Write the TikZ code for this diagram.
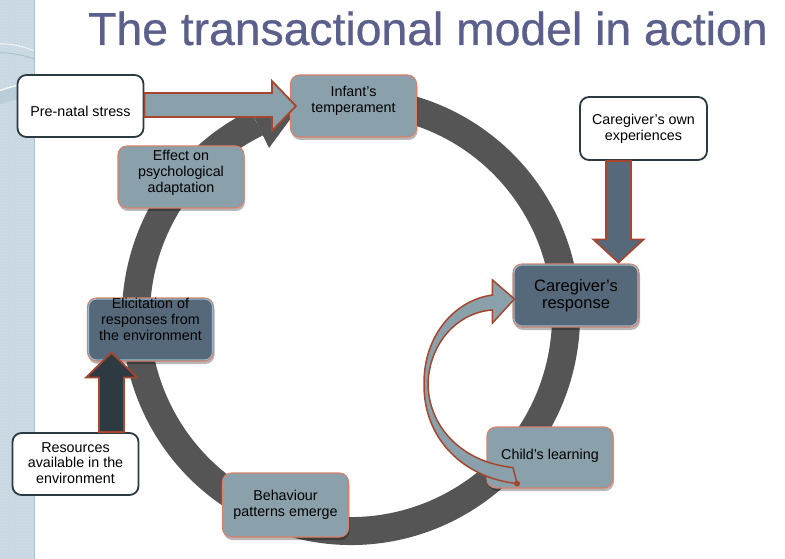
\documentclass[tikz,border=0pt]{standalone}
\usepackage{fontspec}
\setmainfont{Liberation Sans}
\newfontfamily\titlefont[FakeBold=0.6]{Liberation Sans}
\usetikzlibrary{calc,shadows,patterns}
\definecolor{midc}{HTML}{8AA0AB}
\definecolor{darkc}{HTML}{55697A}
\definecolor{ringc}{HTML}{555555}
\definecolor{upc}{HTML}{2D3A42}
\definecolor{arrowedge}{HTML}{A5472F}
\definecolor{salmon}{HTML}{D9826B}
\definecolor{glowc}{HTML}{A6C8DC}
\definecolor{whiteedge}{HTML}{2C3B42}
\definecolor{titlec}{HTML}{5A5F8C}
\definecolor{stripc}{HTML}{C8D8E2}
\definecolor{stripline}{HTML}{A9BFCC}
\begin{document}
\begin{tikzpicture}[x=1pt,y=-1pt,
  box/.style={rounded corners=9pt, minimum width=126pt, minimum height=62pt, inner sep=0pt},
  bluebox/.style={box, fill=midc, draw=salmon, line width=1.1pt,
    drop shadow={opacity=0.28, shadow xshift=1pt, shadow yshift=-3pt, fill=black}},
  darkbox/.style={bluebox, fill=darkc},
  whitebox/.style={box, fill=white, draw=whiteedge, line width=1.8pt},
  glowline/.style={draw=glowc, line width=1pt, rounded corners=8pt, opacity=0.85},
  txt/.style={align=center, inner sep=0pt, font=\fontsize{14.3}{15.8}\selectfont, text=black},
  bigtxt/.style={txt, font=\fontsize{16.5}{17.5}\selectfont},
  barrow/.style={draw=arrowedge, line width=1.8pt, line join=miter},
  ringpath/.style={draw=ringc, line width=28pt}]
\useasboundingbox (0,0) rectangle (785,559);
% left strip
\fill[stripc] (0,0) rectangle (34,559);
\fill[pattern=crosshatch dots, pattern color=white, opacity=0.3] (0,0) rectangle (34,559);
\begin{scope}
  \clip (0,0) rectangle (34,559);
  \fill[stripline, opacity=0.45] (-5,92) .. controls (10,87) and (24,83) .. (40,81) -- (40,96) .. controls (24,98) and (10,101) .. (-5,105) -- cycle;
  \draw[white, line width=0.9pt, opacity=0.8] (-5,44) .. controls (10,43) and (24,46) .. (40,53);
  \draw[stripline, line width=0.9pt] (-5,53) .. controls (10,52) and (24,55) .. (40,61);
  \draw[white, line width=1.3pt, opacity=0.9] (-5,92) .. controls (10,87) and (24,83) .. (40,81);
\end{scope}
\draw[stripline, line width=0.8pt] (34,0) -- (34,559);
% title
\node[anchor=base west, inner sep=0pt, font=\titlefont\fontsize{46.3}{50}\selectfont, text=titlec] (title) at (88,45) {The transactional model in action};
% cycle ring
\coordinate (cen) at (351,316);
\draw[ringpath] ($(cen)+(75:215pt)$) arc[start angle=75, end angle=-244, radius=215pt];
\fill[ringc] ($(cen)+(116:187pt)$) -- ($(cen)+(104:215pt)$) -- ($(cen)+(116:243pt)$) -- cycle;
% boxes
\node[whitebox] (pre) at (80.5,106) {};
\node[bluebox] (inf) at (353.5,106) {};
\node[bluebox] (eff) at (181,177) {};
\node[whitebox, minimum width=127pt, minimum height=63pt] (cge) at (643.5,128.5) {};
\node[darkbox, minimum height=63pt] (cgr) at (576,295.5) {};
\node[bluebox, minimum height=61pt] (cl) at (550,457.5) {};
\node[bluebox, minimum height=64pt] (beh) at (285.5,505) {};
\node[darkbox, minimum height=63pt] (eli) at (150.5,329.5) {};
\node[whitebox] (res) at (75.5,464) {};
% inner glow of the dark boxes
\draw[glowline] ([shift={(1.6,1.6)}]cgr.north west) rectangle ([shift={(-1.6,-1.6)}]cgr.south east);
\draw[glowline] ([shift={(1.6,1.6)}]eli.north west) rectangle ([shift={(-1.6,-1.6)}]eli.south east);
% block arrow: pre-natal stress -> infant's temperament
\draw[barrow, fill=midc] ($(pre.east)+(0,-13)$) -- ($(inf.west)+(-18,-13)$) -- ($(inf.west)+(-18,-25)$)
  -- ($(inf.west)+(6,0)$) -- ($(inf.west)+(-18,25)$) -- ($(inf.west)+(-18,11)$) -- ($(pre.east)+(0,11)$) -- cycle;
% block arrow: caregiver's own experiences -> caregiver's response
\coordinate (dtip) at ($(cgr.north)+(42.5,-1)$);
\draw[barrow, fill=darkc] ($(cge.south)+(-37.5,0)$) -- ($(cge.south)+(-12.5,0)$) -- ($(dtip)+(12.5,-23)$)
  -- ($(dtip)+(25,-23)$) -- (dtip) -- ($(dtip)+(-25,-23)$) -- ($(dtip)+(-12.5,-23)$) -- cycle;
% block arrow: resources -> elicitation
\coordinate (utip) at ($(eli.south)+(-39,-9)$);
\draw[barrow, fill=upc] ($(res.north)+(23.5,0)$) -- ($(utip)+(-12.5,25)$) -- ($(utip)+(-25.5,25)$)
  -- (utip) -- ($(utip)+(25.5,25)$) -- ($(utip)+(12.5,25)$) -- ($(res.north)+(48.5,0)$) -- cycle;
% curved arrow: child's learning -> caregiver's response
\coordinate (ctip) at ($(cgr.west)+(2,3.5)$);
\coordinate (ctail) at ($(cl.south)+(-33,-5)$);
\draw[barrow, fill=midc, line width=1.5pt] ($(ctip)+(-22,-4)$) -- ($(ctip)+(-22,-19)$) -- (ctip)
  -- ($(ctip)+(-22,24)$) -- ($(ctip)+(-22,11)$)
  .. controls (460,312) and (430,340) .. (428,383)
  .. controls (428,425) and (460,462) .. ($(ctail)+(-4,-16)$)
  -- (ctail)
  .. controls (465,478) and (423,440) .. (424,383)
  .. controls (424,335) and (455,300) .. ($(ctip)+(-22,-4)$) -- cycle;
\fill[arrowedge] (ctail) circle[radius=3pt];
% texts
\node[txt] (pret) at (80.5,111) {Pre-natal stress};
\node[txt] (inft) at (353.5,100.5) {Infant’s\\temperament};
\node[txt] (efft) at (181,173) {Effect on\\psychological\\adaptation};
\node[txt] (cget) at (643.5,128.5) {Caregiver’s own\\experiences};
\node[bigtxt] (cgrt) at (576,295.5) {Caregiver’s\\response};
\node[txt] (clt) at (550,456) {Child’s learning};
\node[txt] (beht) at (285.5,505) {Behaviour\\patterns emerge};
\node[txt] (elit) at (150.5,319.5) {Elicitation of\\responses from\\the environment};
\node[txt] (rest) at (75.5,463) {Resources\\available in the\\environment};
\end{tikzpicture}
\end{document}
